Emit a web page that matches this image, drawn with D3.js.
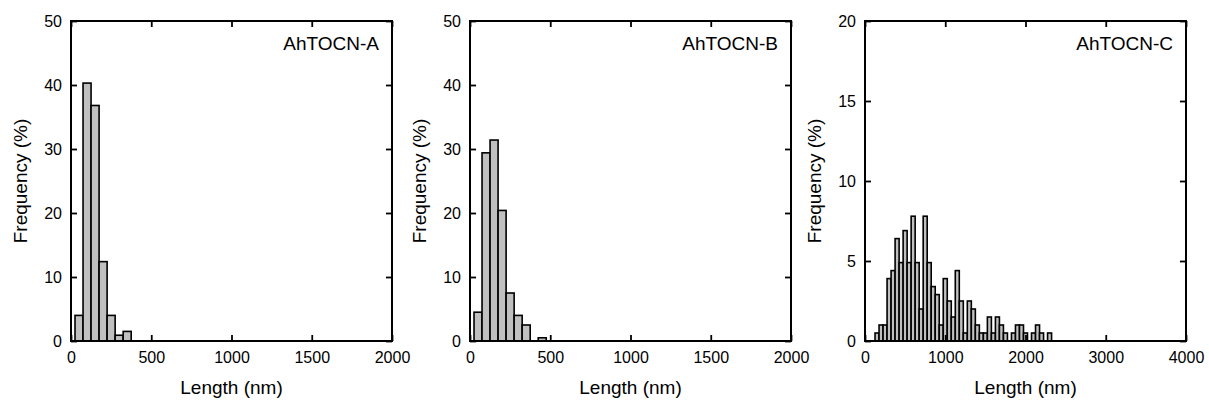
<!DOCTYPE html>
<html>
<head>
<meta charset="utf-8">
<script src="https://cdn.jsdelivr.net/npm/d3@7"></script>
<style>
  body { margin: 0; background: #fff; }
  text { font-family: "Liberation Sans", Arial, sans-serif; fill: #000; }
</style>
</head>
<body>
<div id="chart"></div>
<script>

// bin centres (nm), 50 nm bins
var binWidth = 50;

var centersA = [50, 100, 150, 200, 250, 300, 350];
var freqA = [4.0, 40.3, 36.8, 12.4, 4.0, 0.9, 1.5];

var centersB = [50, 100, 150, 200, 250, 300, 350, 400, 450];
var freqB = [4.5, 29.4, 31.4, 20.4, 7.5, 4.0, 2.5, 0, 0.5];

var centersC = [150, 200, 250, 300, 350, 400, 450, 500, 550, 600, 650, 700, 750, 800, 850, 900, 950, 1000, 1050, 1100, 1150, 1200,
                1250, 1300, 1350, 1400, 1450, 1500, 1550, 1600, 1650, 1700, 1750, 1800, 1850, 1900, 1950, 2000, 2050, 2100, 2150, 2200, 2250, 2300];
var freqC = [0.5, 1.0, 1.0, 3.9, 4.4, 6.4, 4.9, 6.9, 4.9, 7.8, 4.9, 2.0, 7.8, 4.9, 3.4, 2.9, 1.0, 3.9, 2.5, 1.5, 4.4, 2.5,
             0.5, 2.5, 2.0, 1.0, 0.5, 0.5, 1.5, 0.5, 1.5, 1.0, 0.5, 0, 0.5, 1.0, 1.0, 0.5, 0, 0.5, 1.0, 0.5, 0, 0.5];

var xTicksA = [0, 500, 1000, 1500, 2000];
var yTicksA = [0, 10, 20, 30, 40, 50];
var xTicksC = [0, 1000, 2000, 3000, 4000];
var yTicksC = [0, 5, 10, 15, 20];

var labels = ["AhTOCN-A", "AhTOCN-B", "AhTOCN-C"];
var xTitle = "Length (nm)";
var yTitle = "Frequency (%)";

var width = 1209, height = 403;
var top_ = 21, bottom = 341;

var svg = d3.select("#chart").append("svg")
  .attr("width", width)
  .attr("height", height);

var panels = [
  {left: 71,  right: 392,  xMax: 2000, yMax: 50, xTicks: xTicksA, yTicks: yTicksA, centers: centersA, freq: freqA, label: labels[0]},
  {left: 470, right: 791,  xMax: 2000, yMax: 50, xTicks: xTicksA, yTicks: yTicksA, centers: centersB, freq: freqB, label: labels[1]},
  {left: 865, right: 1186, xMax: 4000, yMax: 20, xTicks: xTicksC, yTicks: yTicksC, centers: centersC, freq: freqC, label: labels[2]}
];

panels.forEach(function(p) {
  var x = d3.scaleLinear().domain([0, p.xMax]).range([p.left, p.right]);
  var y = d3.scaleLinear().domain([0, p.yMax]).range([bottom, top_]);

  var g = svg.append("g");

  var bins = p.centers.map(function(c, i) { return {c: c, v: p.freq[i]}; })
    .filter(function(d) { return d.v > 0; });

  g.selectAll("rect.bar")
    .data(bins)
    .enter().append("rect")
    .attr("class", "bar")
    .attr("x", function(d) { return x(d.c - binWidth / 2); })
    .attr("width", function(d) { return x(d.c + binWidth / 2) - x(d.c - binWidth / 2); })
    .attr("y", function(d) { return y(d.v); })
    .attr("height", function(d) { return y(0) - y(d.v); })
    .attr("fill", "#c0c0c0")
    .attr("stroke", "#000")
    .attr("stroke-width", 1.6);

  // inward ticks on all sides
  var bx = g.append("g").attr("transform", "translate(0," + bottom + ")")
    .call(d3.axisBottom(x).tickValues(p.xTicks).tickSizeInner(-6).tickSizeOuter(0).tickPadding(11).tickFormat(d3.format("d")));
  var tx = g.append("g").attr("transform", "translate(0," + top_ + ")")
    .call(d3.axisTop(x).tickValues(p.xTicks).tickSizeInner(-6).tickSizeOuter(0).tickFormat(""));
  var ly = g.append("g").attr("transform", "translate(" + p.left + ",0)")
    .call(d3.axisLeft(y).tickValues(p.yTicks).tickSizeInner(-6).tickSizeOuter(0).tickPadding(9).tickFormat(d3.format("d")));
  var ry = g.append("g").attr("transform", "translate(" + p.right + ",0)")
    .call(d3.axisRight(y).tickValues(p.yTicks).tickSizeInner(-6).tickSizeOuter(0).tickFormat(""));

  [bx, tx, ly, ry].forEach(function(a) {
    a.select(".domain").remove();
    a.selectAll("line").attr("stroke", "#000").attr("stroke-width", 1.8);
    a.selectAll("text").style("font-size", "16px").attr("fill", "#000");
    a.attr("font-family", null);
  });

  g.append("rect")
    .attr("x", p.left)
    .attr("y", top_)
    .attr("width", p.right - p.left)
    .attr("height", bottom - top_)
    .attr("fill", "none")
    .attr("stroke", "#000")
    .attr("stroke-width", 2);

  g.append("text")
    .attr("x", p.right - 13)
    .attr("y", 50)
    .attr("text-anchor", "end")
    .style("font-size", "19px")
    .text(p.label);

  g.append("text")
    .attr("x", (p.left + p.right) / 2)
    .attr("y", 394)
    .attr("text-anchor", "middle")
    .style("font-size", "19px")
    .text(xTitle);

  g.append("text")
    .attr("transform", "translate(" + (p.left - 44) + "," + ((top_ + bottom) / 2) + ") rotate(-90)")
    .attr("text-anchor", "middle")
    .style("font-size", "19px")
    .text(yTitle);
});

</script>
</body>
</html>
